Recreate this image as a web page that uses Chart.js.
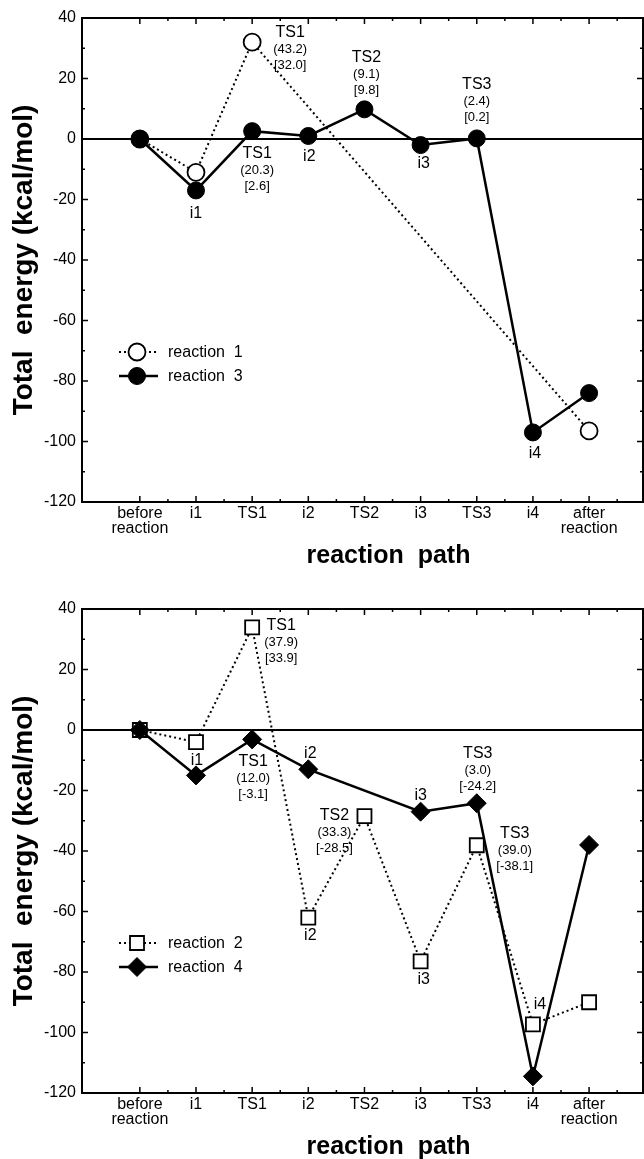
<!DOCTYPE html>
<html>
<head>
<meta charset="utf-8">
<script src="https://cdn.jsdelivr.net/npm/chart.js@4/dist/chart.umd.min.js"></script>
<style>
  html, body { margin: 0; padding: 0; background: #fff; }
  canvas { display: block; }
</style>
</head>
<body>
<canvas id="EnergyTop" width="644" height="590"></canvas>
<canvas id="EnergyBottom" width="644" height="569"></canvas>
<script>
// reaction path steps (x axis) and energy ticks (y axis)
var steps = [["before", "reaction"], "i1", "TS1", "i2", "TS2", "i3", "TS3", "i4", ["after", "reaction"]];
var energyTicks = [40, 20, 0, -20, -40, -60, -80, -100, -120];

// upper panel, kcal/mol (null = no point on that step)
var reaction1 = [0, -11, 32.0, null, null, null, null, null, -96.5];
var reaction3 = [0, -17, 2.6, 1, 9.8, -2, 0.2, -97, -84];

// lower panel
var reaction2 = [0, -4, 33.9, -62, -28.5, -76.5, -38.1, -97.3, -90];
var reaction4 = [0, -15, -3.1, -13, null, -27, -24.2, -114.5, -38];

// point labels: series, step, text lines
var topNotes = [
  { s: reaction1, i: 2, text: ["TS1", "(43.2)", "[32.0]"] },
  { s: reaction3, i: 2, text: ["TS1", "(20.3)", "[2.6]"] },
  { s: reaction3, i: 4, text: ["TS2", "(9.1)", "[9.8]"] },
  { s: reaction3, i: 6, text: ["TS3", "(2.4)", "[0.2]"] },
  { s: reaction3, i: 1, text: ["i1"] },
  { s: reaction3, i: 3, text: ["i2"] },
  { s: reaction3, i: 5, text: ["i3"] },
  { s: reaction3, i: 7, text: ["i4"] }
];
var bottomNotes = [
  { s: reaction2, i: 2, text: ["TS1", "(37.9)", "[33.9]"] },
  { s: reaction4, i: 1, text: ["i1"] },
  { s: reaction4, i: 2, text: ["TS1", "(12.0)", "[-3.1]"] },
  { s: reaction4, i: 3, text: ["i2"] },
  { s: reaction4, i: 5, text: ["i3"] },
  { s: reaction4, i: 6, text: ["TS3", "(3.0)", "[-24.2]"] },
  { s: reaction2, i: 4, text: ["TS2", "(33.3)", "[-28.5]"] },
  { s: reaction2, i: 3, text: ["i2"] },
  { s: reaction2, i: 6, text: ["TS3", "(39.0)", "[-38.1]"] },
  { s: reaction2, i: 5, text: ["i3"] },
  { s: reaction2, i: 7, text: ["i4"] }
];
// label offsets from the point, px (same order as the notes)
var topOffsets = [[38, -10], [5, 22], [2, -52], [0, -54], [0, 23], [1, 21], [3, 19], [2, 21]];
var bottomOffsets = [[29, -2], [1, -15], [1, 22], [2, -16], [0, -16], [1, -50], [-30, -1], [2, 18], [38, -12], [3, 18], [7, -20]];

var FONT = "'Liberation Sans', Arial, Helvetica, sans-serif";

function toPoints(vals) {
  var pts = [];
  vals.forEach(function(v, i) {
    if (v !== null) pts.push({ x: i, y: v });
  });
  return pts;
}

function series(label, vals, marker, radius, filled, dotted) {
  return {
    label: label,
    data: toPoints(vals),
    borderColor: "#000",
    borderWidth: dotted ? 2 : 2.5,
    borderDash: dotted ? [2, 3] : [],
    pointStyle: marker,
    pointRadius: radius,
    pointHoverRadius: radius,
    pointBackgroundColor: filled ? "#000" : "#fff",
    pointBorderColor: "#000",
    pointBorderWidth: filled ? 1 : 1.8,
    fill: false,
    tension: 0
  };
}

// frame, inward tick marks, step labels, x title, point labels and legend
var decorations = {
  id: "decorations",
  afterDatasetsDraw: function(chart, args, opts) {
    var ctx = chart.ctx, a = chart.chartArea;
    var xs = chart.scales.x, ys = chart.scales.y;
    ctx.save();
    ctx.strokeStyle = "#000";
    ctx.lineWidth = 2;
    ctx.strokeRect(a.left, a.top, a.right - a.left, a.bottom - a.top);

    ctx.lineWidth = 1.5;
    ctx.beginPath();
    energyTicks.forEach(function(v) {
      var py = ys.getPixelForValue(v);
      ctx.moveTo(a.left, py); ctx.lineTo(a.left + 6, py);
      ctx.moveTo(a.right, py); ctx.lineTo(a.right - 6, py);
      if (v > -120) {
        var pm = ys.getPixelForValue(v - 10);
        ctx.moveTo(a.left, pm); ctx.lineTo(a.left + 3, pm);
        ctx.moveTo(a.right, pm); ctx.lineTo(a.right - 3, pm);
      }
    });
    steps.forEach(function(s, i) {
      var px = xs.getPixelForValue(i);
      ctx.moveTo(px, a.bottom); ctx.lineTo(px, a.bottom - 6);
      ctx.moveTo(px, a.top); ctx.lineTo(px, a.top + 6);
      var pm = xs.getPixelForValue(i + 0.5);
      ctx.moveTo(pm, a.bottom); ctx.lineTo(pm, a.bottom - 3);
      ctx.moveTo(pm, a.top); ctx.lineTo(pm, a.top + 3);
    });
    ctx.stroke();

    ctx.fillStyle = "#000";
    ctx.textAlign = "center";
    ctx.textBaseline = "middle";

    // step names under the axis
    ctx.font = "16px " + FONT;
    steps.forEach(function(s, i) {
      var px = xs.getPixelForValue(i);
      [].concat(s).forEach(function(t, j) {
        ctx.fillText(t, px, a.bottom + 12 + 15 * j);
      });
    });

    // x axis title, sits a little right of centre in the original
    ctx.font = "bold 25px " + FONT;
    ctx.fillText("reaction  path", (a.left + a.right) / 2 + 26, a.bottom + 54);

    // point labels
    opts.notes.forEach(function(n, k) {
      var off = opts.offsets[k];
      var px = xs.getPixelForValue(n.i) + off[0];
      var py = ys.getPixelForValue(n.s[n.i]) + off[1];
      n.text.forEach(function(t, j) {
        ctx.font = (j === 0 ? "16px " : "13px ") + FONT;
        ctx.fillText(t, px, py + (j === 0 ? 0 : 1 + 16 * j));
      });
    });

    // legend
    opts.legend.forEach(function(row, r) {
      var ds = chart.data.datasets[row];
      var cy = a.top + 334 + r * 24;
      var x0 = a.left + 37, x1 = a.left + 76, cx = a.left + 55;
      ctx.lineWidth = ds.borderWidth;
      ctx.setLineDash(ds.borderDash);
      ctx.beginPath();
      ctx.moveTo(x0, cy); ctx.lineTo(x1, cy);
      ctx.stroke();
      ctx.setLineDash([]);
      ctx.fillStyle = ds.pointBackgroundColor;
      ctx.lineWidth = ds.pointBorderWidth;
      Chart.helpers.drawPoint(ctx, { pointStyle: ds.pointStyle, radius: ds.pointRadius, rotation: 0, borderWidth: ds.pointBorderWidth }, cx, cy);
      ctx.fillStyle = "#000";
      ctx.textAlign = "left";
      ctx.font = "16px " + FONT;
      ctx.fillText(ds.label, a.left + 86, cy + 1);
    });
    ctx.restore();
  }
};

function makeChart(id, datasets, notes, offsets, legend, padTop, axisHeight) {
  var ctx = document.getElementById(id).getContext("2d");
  return new Chart(ctx, {
    type: "line",
    data: { datasets: datasets },
    options: {
      responsive: false,
      animation: false,
      events: [],
      layout: { autoPadding: false, padding: { top: padTop, right: 1, left: 0, bottom: 0 } },
      plugins: {
        legend: { display: false },
        tooltip: { enabled: false },
        decorations: { notes: notes, offsets: offsets, legend: legend }
      },
      scales: {
        x: {
          type: "linear",
          min: -1.03,
          max: 8.96,
          afterBuildTicks: function(scale) {
            scale.ticks = steps.map(function(s, i) { return { value: i }; });
          },
          afterFit: function(scale) {
            scale.height = axisHeight;
            scale.paddingLeft = 0;
            scale.paddingRight = 0;
          },
          ticks: { display: false },
          grid: { display: false, drawTicks: false },
          border: { display: false }
        },
        y: {
          min: -120,
          max: 40,
          afterBuildTicks: function(scale) {
            scale.ticks = energyTicks.map(function(v) { return { value: v }; });
          },
          afterFit: function(scale) { scale.width = 82; },
          ticks: {
            padding: 6,
            color: "#000",
            font: { family: FONT, size: 16 }
          },
          grid: {
            drawTicks: false,
            lineWidth: 2,
            color: function(c) { return c.tick && c.tick.value === 0 ? "#000" : "rgba(0,0,0,0)"; }
          },
          border: { display: false },
          title: {
            display: true,
            text: "Total  energy (kcal/mol)",
            color: "#000",
            font: { family: FONT, size: 28, weight: "bold" },
            padding: { top: 7, bottom: 0 }
          }
        }
      }
    },
    plugins: [decorations]
  });
}

makeChart("EnergyTop",
  [series("reaction  3", reaction3, "circle", 8.5, true, false),
   series("reaction  1", reaction1, "circle", 8.5, false, true)],
  topNotes, topOffsets, [1, 0], 18, 88);

makeChart("EnergyBottom",
  [series("reaction  4", reaction4, "rectRot", 9.5, true, false),
   series("reaction  2", reaction2, "rect", 9.9, false, true)],
  bottomNotes, bottomOffsets, [1, 0], 19, 66);
</script>
</body>
</html>
